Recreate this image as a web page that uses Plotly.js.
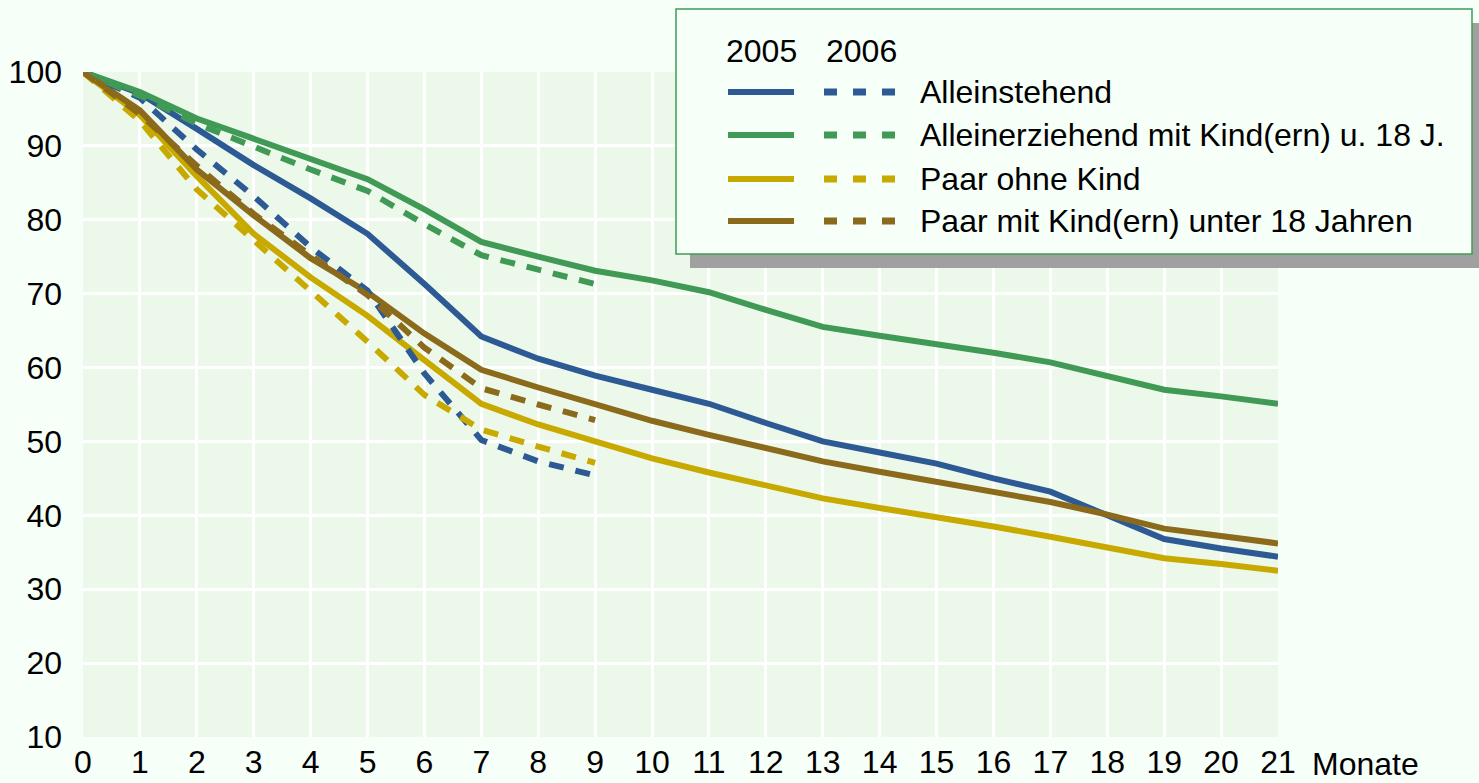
<!DOCTYPE html>
<html>
<head>
<meta charset="utf-8">
<script src="https://cdn.plot.ly/plotly-3.0.1.min.js"></script>
<style>
  html, body { margin: 0; padding: 0; background: #f7fff9; }
  #chart { width: 1479px; height: 783px; }
</style>
</head>
<body>
<div id="chart"></div>
<script>
// months since start, 2005 cohort runs 21 months, 2006 only 9
let months2005 = [0,1,2,3,4,5,6,7,8,9,10,11,12,13,14,15,16,17,18,19,20,21];
let months2006 = [0,1,2,3,4,5,6,7,8,9];

// share still receiving benefits (index, start = 100)
let alleinstehend2005   = [100, 97.1, 92.3, 87.4, 82.9, 78.1, 71.3, 64.2, 61.2, 58.9, 57.0, 55.1, 52.5, 50.0, 48.5, 47.0, 45.0, 43.2, 40.0, 36.8, 35.5, 34.4];
let alleinerziehend2005 = [100, 97.3, 93.7, 91.0, 88.2, 85.5, 81.4, 77.0, 75.0, 73.1, 71.8, 70.2, 67.8, 65.5, 64.3, 63.2, 62.0, 60.7, 58.8, 57.0, 56.1, 55.1];
let paarOhneKind2005    = [100, 94.2, 85.9, 78.1, 72.2, 67.0, 61.0, 55.1, 52.3, 50.0, 47.7, 45.8, 44.0, 42.3, 41.0, 39.8, 38.5, 37.1, 35.6, 34.2, 33.4, 32.5];
let paarMitKind2005     = [100, 94.8, 86.8, 80.6, 74.8, 70.2, 64.6, 59.7, 57.3, 55.0, 52.8, 50.9, 49.0, 47.3, 45.9, 44.5, 43.1, 41.8, 40.1, 38.2, 37.2, 36.2];

let alleinstehend2006   = [100, 96.5, 89.5, 83.2, 76.3, 70.4, 59.2, 50.2, 47.3, 45.4];
let alleinerziehend2006 = [100, 96.8, 93.0, 89.8, 86.8, 83.9, 79.4, 75.2, 73.2, 71.3];
let paarOhneKind2006    = [100, 93.4, 84.1, 77.2, 70.4, 63.5, 56.3, 51.6, 49.3, 47.1];
let paarMitKind2006     = [100, 94.3, 87.3, 80.8, 75.2, 69.8, 62.7, 57.2, 55.0, 52.9];

let groupNames = ["Alleinstehend", "Alleinerziehend mit Kind(ern) u. 18 J.", "Paar ohne Kind", "Paar mit Kind(ern) unter 18 Jahren"];
let groupColors = ["#2d5a94", "#409a55", "#c8a900", "#8b6a1c"];
let yearLabels = ["2005", "2006"];

let yTicks = [10,20,30,40,50,60,70,80,90,100];

let series2005 = [alleinstehend2005, alleinerziehend2005, paarOhneKind2005, paarMitKind2005];
let series2006 = [alleinstehend2006, alleinerziehend2006, paarOhneKind2006, paarMitKind2006];

let traces = [];
series2005.forEach((vals, i) => {
    traces.push({x: months2005, y: vals, type: "scatter", mode: "lines",
        name: groupNames[i] + " 2005", line: {color: groupColors[i], width: 6}});
});
series2006.forEach((vals, i) => {
    traces.push({x: months2006, y: vals, type: "scatter", mode: "lines",
        name: groupNames[i] + " 2006", line: {color: groupColors[i], width: 6, dash: "15px,12px"}});
});

// plot area in pixels, used to place the hand made legend
const L = 83, R = 1278, T = 72, B = 737;
const px = x => (x - L) / (R - L);
const py = y => (B - y) / (B - T);

let font = {family: "Liberation Sans, Arial, sans-serif", size: 32, color: "#000"};

let shapes = [
    // shadow and legend box
    {type: "rect", xref: "paper", yref: "paper", x0: px(690), x1: px(1490), y0: py(23), y1: py(268),
        fillcolor: "#a0a0a0", line: {width: 0}, layer: "above"},
    {type: "rect", xref: "paper", yref: "paper", x0: px(676), x1: px(1472), y0: py(9), y1: py(254),
        fillcolor: "#f7fff9", line: {color: "#409a55", width: 1.5}, layer: "above"}
];
let annotations = [
    {xref: "paper", yref: "paper", x: px(761), y: py(51), text: yearLabels[0], showarrow: false, font: font, xanchor: "center", yanchor: "middle"},
    {xref: "paper", yref: "paper", x: px(861), y: py(51), text: yearLabels[1], showarrow: false, font: font, xanchor: "center", yanchor: "middle"},
    {xref: "paper", yref: "paper", x: px(1310), y: py(764), text: "Monate", showarrow: false, font: font, xanchor: "left", yanchor: "middle"}
];
let rowY = [92, 135, 179, 221];
groupNames.forEach((name, i) => {
    shapes.push({type: "line", xref: "paper", yref: "paper", x0: px(728), x1: px(794), y0: py(rowY[i]), y1: py(rowY[i]),
        line: {color: groupColors[i], width: 6}, layer: "above"});
    shapes.push({type: "line", xref: "paper", yref: "paper", x0: px(824), x1: px(895), y0: py(rowY[i]), y1: py(rowY[i]),
        line: {color: groupColors[i], width: 7, dash: "13px,16px"}, layer: "above"});
    annotations.push({xref: "paper", yref: "paper", x: px(918), y: py(rowY[i]), text: name, showarrow: false,
        font: font, xanchor: "left", yanchor: "middle"});
});

let layout = {
    width: 1479, height: 783,
    margin: {l: L, r: 1479 - R, t: T, b: 783 - B, pad: 0},
    paper_bgcolor: "#f7fff9",
    plot_bgcolor: "#ecf9ea",
    showlegend: false,
    font: font,
    xaxis: {range: [0, 21], tickvals: months2005, ticks: "", showgrid: true, gridcolor: "#ffffff", gridwidth: 3,
        zeroline: false, showline: false, ticklabelstandoff: 3, tickfont: font, fixedrange: true},
    yaxis: {range: [10, 100], tickvals: yTicks, ticks: "", showgrid: true, gridcolor: "#ffffff", gridwidth: 3,
        zeroline: false, showline: false, ticklabelstandoff: 20, tickfont: font, fixedrange: true},
    shapes: shapes,
    annotations: annotations
};

Plotly.newPlot("chart", traces, layout, {displayModeBar: false, staticPlot: true});
</script>
</body>
</html>
